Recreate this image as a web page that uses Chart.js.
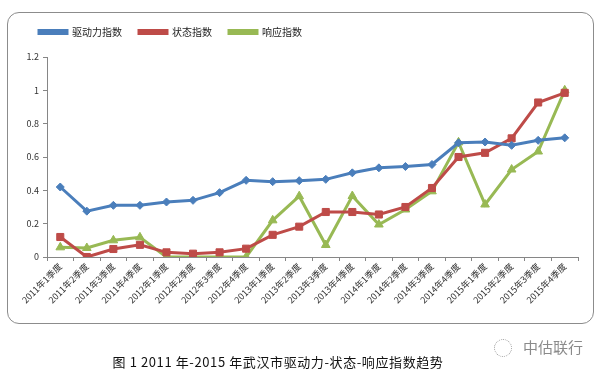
<!DOCTYPE html>
<html>
<head>
<meta charset="utf-8">
<script src="https://cdn.jsdelivr.net/npm/chart.js@4.4.0/dist/chart.umd.min.js"></script>
<style>
    html, body { margin: 0; padding: 0; background: #fff; }
    body { width: 603px; height: 373px; position: relative; overflow: hidden; font-family: "Noto Sans CJK SC", sans-serif; }
    #frame { position: absolute; left: 7px; top: 12px; width: 585px; height: 310px; border: 1px solid #8c8c8c; border-radius: 12px; }
    #chart { position: absolute; left: 0; top: 0; }
    #caption { position: absolute; left: 0; width: 556px; top: 352px; text-align: center; font-size: 13px; letter-spacing: 0.6px; color: #111; }
    #mark { position: absolute; left: 523px; top: 336px; font-size: 15px; color: #8a8a8a; }
    #logo { position: absolute; left: 494px; top: 339px; width: 16px; height: 16px; border: 1px dotted #9a9a9a; border-radius: 50%; }
</style>
</head>
<body>
<div id="frame"></div>
<canvas id="chart" width="603" height="373"></canvas>
<div id="logo"></div>
<div id="mark">中估联行</div>
<div id="caption">图 1 2011 年-2015 年武汉市驱动力-状态-响应指数趋势</div>
<script>
// Chart data
const quarters = [
    '2011年1季度', '2011年2季度', '2011年3季度', '2011年4季度',
    '2012年1季度', '2012年2季度', '2012年3季度', '2012年4季度',
    '2013年1季度', '2013年2季度', '2013年3季度', '2013年4季度',
    '2014年1季度', '2014年2季度', '2014年3季度', '2014年4季度',
    '2015年1季度', '2015年2季度', '2015年3季度', '2015年4季度'
];
const seriesNames = ['驱动力指数', '状态指数', '响应指数'];
const drivingValues = [0.42, 0.275, 0.31, 0.31, 0.33, 0.34, 0.386, 0.46, 0.452, 0.458,
    0.466, 0.505, 0.535, 0.543, 0.555, 0.685, 0.69, 0.67, 0.70, 0.715];
const stateValues = [0.12, 0.0, 0.048, 0.073, 0.028, 0.02, 0.028, 0.05, 0.133, 0.182,
    0.27, 0.27, 0.255, 0.30, 0.414, 0.60, 0.625, 0.712, 0.927, 0.985];
const responseValues = [0.058, 0.054, 0.10, 0.118, 0.0, 0.0, 0.0, 0.0, 0.22, 0.365,
    0.072, 0.366, 0.195, 0.285, 0.394, 0.688, 0.315, 0.525, 0.633, 1.0];
const yTicks = [0, 0.2, 0.4, 0.6, 0.8, 1, 1.2];

const axisColor = '#868686';
const labelFont = { family: '"Noto Sans CJK SC", sans-serif', size: 9 };

function makeSeries(label, data, color, style, radius) {
    return {
        label: label,
        data: data,
        borderColor: color,
        backgroundColor: color,
        borderWidth: 3,
        pointStyle: style,
        pointRadius: radius,
        pointHoverRadius: radius,
        pointBorderWidth: 1,
        tension: 0
    };
}

// Excel puts the legend a bit further in from the frame, with more room under it
const legendShift = {
    id: 'legendShift',
    afterInit(chart) {
        const legend = chart.legend;
        const fit = legend.fit;
        legend.fit = function() {
            fit.call(this);
            this.height += 10;
        };
    },
    beforeDraw(chart) {
        chart.legend.left = 22;
    }
};

new Chart(document.getElementById('chart'), {
    type: 'line',
    data: {
        labels: quarters,
        datasets: [
            makeSeries(seriesNames[0], drivingValues, '#4a7ebb', 'rectRot', 4),
            makeSeries(seriesNames[1], stateValues, '#be4b48', 'rect', 5),
            makeSeries(seriesNames[2], responseValues, '#98b954', 'triangle', 5)
        ]
    },
    plugins: [legendShift],
    options: {
        responsive: false,
        animation: false,
        layout: { padding: { left: 8, right: 25, top: 10, bottom: 50 } },
        plugins: {
            tooltip: { enabled: false },
            legend: {
                position: 'top',
                align: 'start',
                labels: {
                    boxWidth: 28,
                    boxHeight: 3,
                    padding: 17,
                    color: '#222',
                    font: { family: '"Noto Sans CJK SC", sans-serif', size: 10 }
                }
            }
        },
        scales: {
            x: {
                offset: true,
                grid: { display: true, drawOnChartArea: false, offset: true, tickLength: 4, color: axisColor },
                border: { color: axisColor },
                ticks: { maxRotation: 45, minRotation: 45, autoSkip: false, color: '#333', font: labelFont, padding: 0 },
                afterFit: function(scale) { scale.height = 66; }
            },
            y: {
                min: 0,
                max: 1.2,
                afterBuildTicks: function(scale) { scale.ticks = yTicks.map(v => ({ value: v })); },
                grid: { display: true, drawOnChartArea: false, tickLength: 4, color: axisColor },
                border: { color: axisColor },
                ticks: {
                    color: '#333',
                    font: labelFont,
                    padding: 4,
                    callback: function(value) { return String(+value.toFixed(1)); }
                },
                afterFit: function(scale) { scale.width = 39; }
            }
        }
    }
});
</script>
</body>
</html>
